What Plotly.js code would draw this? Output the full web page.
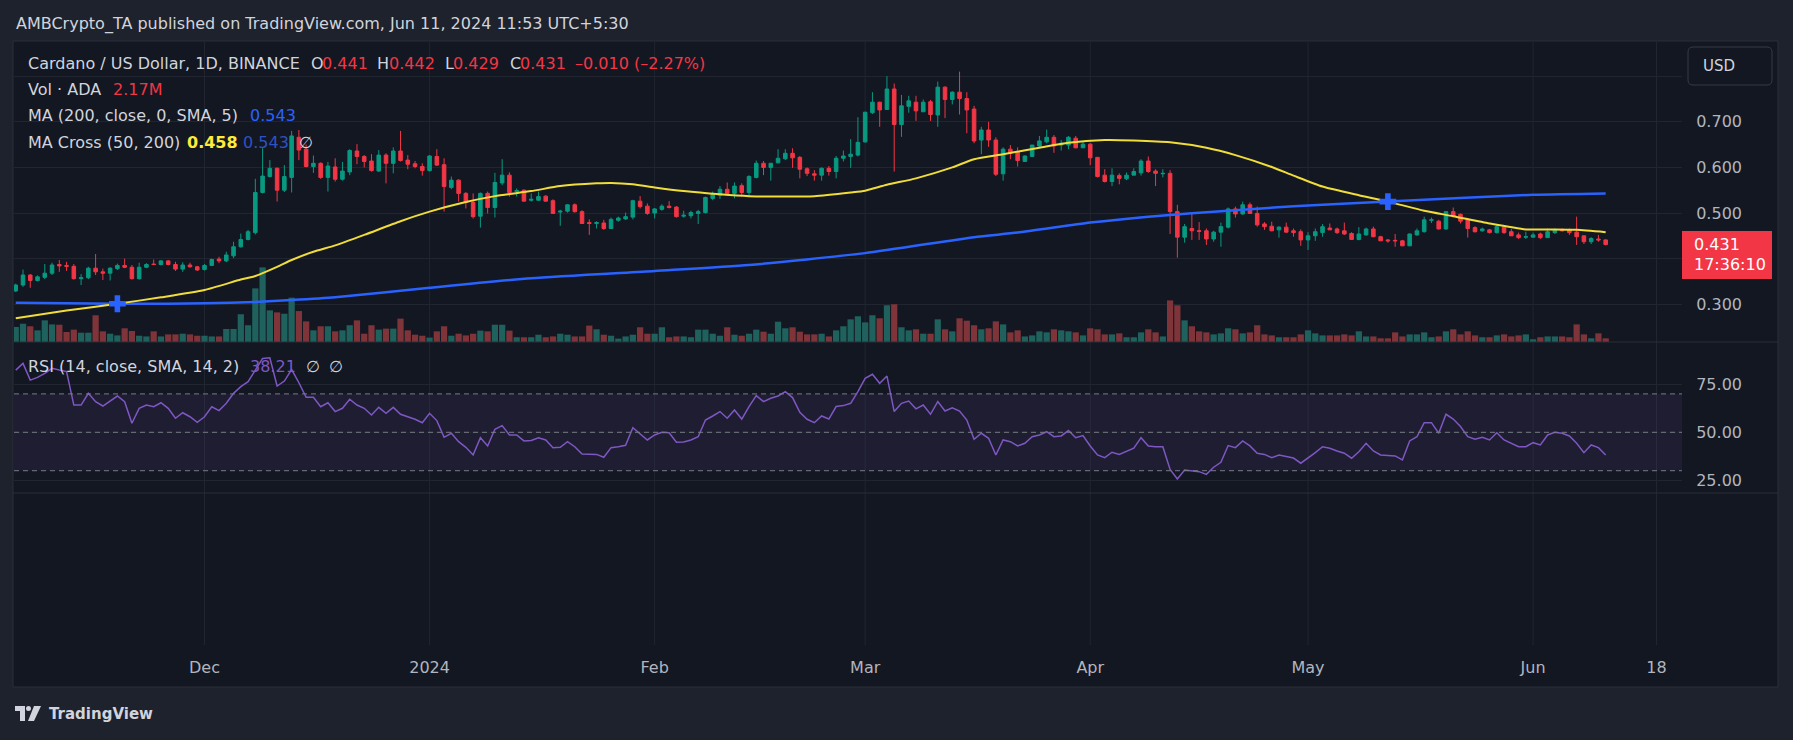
<!DOCTYPE html>
<html>
<head>
<meta charset="utf-8">
<script src="https://cdn.plot.ly/plotly-3.0.1.min.js"></script>
<style>
html,body{margin:0;padding:0;background:#1e222d;overflow:hidden}
#chart{width:1793px;height:740px}
</style>
</head>
<body>
<div id="chart"></div>
<script>
// ---------------- DATA ----------------
const dates = [
'2023-11-05','2023-11-06','2023-11-07','2023-11-08','2023-11-09','2023-11-10','2023-11-11','2023-11-12','2023-11-13','2023-11-14',
'2023-11-15','2023-11-16','2023-11-17','2023-11-18','2023-11-19','2023-11-20','2023-11-21','2023-11-22','2023-11-23','2023-11-24',
'2023-11-25','2023-11-26','2023-11-27','2023-11-28','2023-11-29','2023-11-30',
'2023-12-01','2023-12-02','2023-12-03','2023-12-04','2023-12-05','2023-12-06','2023-12-07','2023-12-08','2023-12-09','2023-12-10',
'2023-12-11','2023-12-12','2023-12-13','2023-12-14','2023-12-15','2023-12-16','2023-12-17','2023-12-18','2023-12-19','2023-12-20',
'2023-12-21','2023-12-22','2023-12-23','2023-12-24','2023-12-25','2023-12-26','2023-12-27','2023-12-28','2023-12-29','2023-12-30','2023-12-31',
'2024-01-01','2024-01-02','2024-01-03','2024-01-04','2024-01-05','2024-01-06','2024-01-07','2024-01-08','2024-01-09','2024-01-10',
'2024-01-11','2024-01-12','2024-01-13','2024-01-14','2024-01-15','2024-01-16','2024-01-17','2024-01-18','2024-01-19','2024-01-20',
'2024-01-21','2024-01-22','2024-01-23','2024-01-24','2024-01-25','2024-01-26','2024-01-27','2024-01-28','2024-01-29','2024-01-30','2024-01-31',
'2024-02-01','2024-02-02','2024-02-03','2024-02-04','2024-02-05','2024-02-06','2024-02-07','2024-02-08','2024-02-09','2024-02-10',
'2024-02-11','2024-02-12','2024-02-13','2024-02-14','2024-02-15','2024-02-16','2024-02-17','2024-02-18','2024-02-19','2024-02-20',
'2024-02-21','2024-02-22','2024-02-23','2024-02-24','2024-02-25','2024-02-26','2024-02-27','2024-02-28','2024-02-29',
'2024-03-01','2024-03-02','2024-03-03','2024-03-04','2024-03-05','2024-03-06','2024-03-07','2024-03-08','2024-03-09','2024-03-10',
'2024-03-11','2024-03-12','2024-03-13','2024-03-14','2024-03-15','2024-03-16','2024-03-17','2024-03-18','2024-03-19','2024-03-20',
'2024-03-21','2024-03-22','2024-03-23','2024-03-24','2024-03-25','2024-03-26','2024-03-27','2024-03-28','2024-03-29','2024-03-30','2024-03-31',
'2024-04-01','2024-04-02','2024-04-03','2024-04-04','2024-04-05','2024-04-06','2024-04-07','2024-04-08','2024-04-09','2024-04-10',
'2024-04-11','2024-04-12','2024-04-13','2024-04-14','2024-04-15','2024-04-16','2024-04-17','2024-04-18','2024-04-19','2024-04-20',
'2024-04-21','2024-04-22','2024-04-23','2024-04-24','2024-04-25','2024-04-26','2024-04-27','2024-04-28','2024-04-29','2024-04-30',
'2024-05-01','2024-05-02','2024-05-03','2024-05-04','2024-05-05','2024-05-06','2024-05-07','2024-05-08','2024-05-09','2024-05-10',
'2024-05-11','2024-05-12','2024-05-13','2024-05-14','2024-05-15','2024-05-16','2024-05-17','2024-05-18','2024-05-19','2024-05-20',
'2024-05-21','2024-05-22','2024-05-23','2024-05-24','2024-05-25','2024-05-26','2024-05-27','2024-05-28','2024-05-29','2024-05-30','2024-05-31',
'2024-06-01','2024-06-02','2024-06-03','2024-06-04','2024-06-05','2024-06-06','2024-06-07','2024-06-08','2024-06-09','2024-06-10','2024-06-11'
];

const open = [
0.329,0.342,0.364,0.352,0.359,0.368,0.387,0.385,0.383,0.356,0.358,0.379,0.371,0.368,0.378,0.385,0.381,0.356,0.381,0.388,0.387,0.395,0.387,0.377,0.386,0.382,
0.376,0.385,0.399,0.395,0.406,0.426,0.442,0.457,0.545,0.580,0.598,0.550,0.578,0.666,0.640,0.602,0.609,0.578,0.601,0.574,0.590,0.636,0.624,0.614,0.592,0.627,0.609,0.636,0.616,0.608,0.602,
0.593,0.624,0.606,0.556,0.572,0.543,0.523,0.493,0.543,0.512,0.566,0.583,0.547,0.550,0.528,0.528,0.537,0.527,0.502,0.504,0.518,0.503,0.479,0.477,0.478,0.466,0.484,0.487,0.491,0.526,0.515,
0.500,0.508,0.515,0.513,0.493,0.494,0.499,0.501,0.532,0.539,0.552,0.543,0.560,0.545,0.578,0.609,0.600,0.610,0.619,0.631,0.622,0.597,0.586,0.583,0.598,0.591,0.620,0.624,0.627,
0.656,0.720,0.743,0.727,0.772,0.694,0.734,0.743,0.722,0.744,0.715,0.776,0.749,0.765,0.751,0.728,0.660,0.682,0.660,0.586,0.640,0.633,0.613,0.624,0.647,0.656,0.666,0.649,0.649,0.664,0.643,
0.651,0.622,0.583,0.569,0.582,0.575,0.583,0.588,0.614,0.592,0.586,0.587,0.503,0.447,0.466,0.461,0.461,0.443,0.458,0.469,0.509,0.498,0.518,0.499,0.476,0.471,0.463,0.469,0.461,0.459,
0.441,0.450,0.457,0.467,0.465,0.461,0.455,0.442,0.452,0.465,0.448,0.441,0.440,0.439,0.428,0.452,0.459,0.484,0.482,0.465,0.503,0.497,0.486,0.468,0.461,0.463,0.457,0.469,0.459,0.452,0.447,
0.447,0.454,0.446,0.457,0.464,0.464,0.458,0.450,0.437,0.443,0.441
];
const high = [
0.345,0.376,0.366,0.363,0.388,0.391,0.397,0.393,0.388,0.366,0.382,0.410,0.378,0.381,0.389,0.400,0.386,0.391,0.390,0.398,0.397,0.397,0.393,0.392,0.391,0.384,
0.388,0.400,0.404,0.415,0.437,0.455,0.463,0.575,0.642,0.616,0.600,0.605,0.680,0.682,0.650,0.626,0.611,0.612,0.620,0.612,0.640,0.651,0.627,0.629,0.638,0.631,0.644,0.680,0.627,0.614,0.609,
0.627,0.640,0.620,0.580,0.574,0.546,0.543,0.545,0.547,0.588,0.618,0.589,0.554,0.552,0.543,0.547,0.539,0.530,0.507,0.519,0.521,0.506,0.486,0.482,0.485,0.490,0.492,0.501,0.529,0.537,0.521,
0.511,0.519,0.526,0.515,0.505,0.505,0.507,0.536,0.547,0.559,0.567,0.567,0.565,0.583,0.615,0.614,0.610,0.640,0.640,0.642,0.625,0.600,0.594,0.600,0.603,0.625,0.637,0.662,0.710,
0.722,0.765,0.744,0.800,0.784,0.759,0.757,0.757,0.749,0.748,0.788,0.778,0.767,0.810,0.765,0.735,0.689,0.700,0.666,0.644,0.649,0.644,0.626,0.649,0.669,0.683,0.671,0.660,0.669,0.669,0.656,
0.653,0.622,0.596,0.598,0.587,0.589,0.598,0.618,0.624,0.596,0.596,0.594,0.518,0.476,0.498,0.480,0.466,0.461,0.479,0.512,0.514,0.525,0.523,0.514,0.480,0.481,0.471,0.479,0.466,0.464,
0.458,0.466,0.476,0.477,0.468,0.479,0.458,0.469,0.468,0.470,0.450,0.443,0.454,0.441,0.455,0.466,0.492,0.490,0.485,0.504,0.512,0.499,0.488,0.471,0.468,0.465,0.475,0.471,0.465,0.457,0.459,
0.457,0.457,0.466,0.466,0.466,0.466,0.492,0.450,0.447,0.452,0.442
];
const low = [
0.327,0.338,0.336,0.350,0.355,0.364,0.371,0.373,0.354,0.342,0.355,0.364,0.353,0.352,0.375,0.379,0.354,0.354,0.379,0.386,0.385,0.385,0.373,0.371,0.380,0.373,
0.374,0.384,0.390,0.392,0.401,0.424,0.440,0.453,0.543,0.578,0.525,0.546,0.545,0.616,0.600,0.588,0.575,0.547,0.569,0.571,0.583,0.607,0.600,0.591,0.590,0.565,0.587,0.613,0.596,0.598,0.582,
0.591,0.603,0.503,0.552,0.525,0.510,0.488,0.468,0.499,0.490,0.561,0.536,0.536,0.525,0.525,0.527,0.525,0.498,0.472,0.501,0.501,0.476,0.452,0.466,0.463,0.466,0.481,0.485,0.486,0.510,0.496,
0.488,0.505,0.510,0.490,0.490,0.488,0.476,0.499,0.528,0.531,0.539,0.532,0.536,0.536,0.576,0.583,0.571,0.609,0.616,0.599,0.576,0.581,0.571,0.571,0.582,0.576,0.613,0.599,0.624,
0.654,0.717,0.689,0.726,0.591,0.667,0.720,0.702,0.722,0.702,0.689,0.708,0.738,0.716,0.675,0.653,0.629,0.645,0.581,0.571,0.618,0.602,0.612,0.624,0.644,0.653,0.632,0.637,0.640,0.642,0.643,
0.605,0.578,0.567,0.559,0.563,0.572,0.583,0.582,0.588,0.559,0.578,0.454,0.402,0.435,0.441,0.441,0.430,0.437,0.426,0.466,0.490,0.496,0.498,0.470,0.463,0.460,0.446,0.457,0.448,0.428,
0.419,0.439,0.448,0.463,0.454,0.452,0.441,0.440,0.450,0.447,0.439,0.435,0.426,0.428,0.428,0.450,0.457,0.478,0.464,0.463,0.492,0.477,0.446,0.457,0.459,0.455,0.455,0.454,0.450,0.443,0.443,
0.446,0.443,0.446,0.454,0.459,0.452,0.430,0.432,0.432,0.437,0.429
];
const close = [
0.342,0.364,0.352,0.360,0.368,0.386,0.384,0.383,0.356,0.358,0.379,0.371,0.368,0.379,0.385,0.381,0.356,0.381,0.387,0.387,0.395,0.387,0.377,0.386,0.382,0.375,
0.385,0.398,0.395,0.408,0.426,0.442,0.459,0.545,0.581,0.598,0.550,0.580,0.669,0.638,0.602,0.609,0.578,0.603,0.574,0.592,0.637,0.624,0.613,0.593,0.627,0.609,0.636,0.615,0.607,0.602,0.593,
0.625,0.605,0.558,0.572,0.543,0.523,0.492,0.543,0.512,0.567,0.583,0.545,0.549,0.526,0.530,0.536,0.526,0.499,0.504,0.518,0.503,0.477,0.477,0.479,0.466,0.486,0.489,0.492,0.527,0.514,0.499,
0.509,0.515,0.512,0.492,0.495,0.501,0.503,0.534,0.541,0.552,0.543,0.559,0.545,0.580,0.609,0.600,0.609,0.620,0.631,0.621,0.596,0.587,0.583,0.598,0.591,0.620,0.625,0.629,0.655,
0.721,0.743,0.726,0.772,0.694,0.735,0.746,0.724,0.743,0.716,0.776,0.749,0.765,0.751,0.726,0.658,0.682,0.660,0.585,0.640,0.631,0.615,0.625,0.649,0.658,0.666,0.647,0.653,0.666,0.643,0.651,
0.621,0.580,0.569,0.583,0.576,0.583,0.591,0.614,0.591,0.587,0.587,0.503,0.447,0.470,0.461,0.460,0.443,0.458,0.470,0.509,0.498,0.518,0.499,0.474,0.470,0.461,0.469,0.458,0.457,0.441,
0.450,0.459,0.470,0.463,0.457,0.454,0.442,0.454,0.465,0.448,0.439,0.439,0.439,0.428,0.454,0.461,0.485,0.485,0.465,0.503,0.493,0.482,0.466,0.459,0.465,0.457,0.470,0.457,0.450,0.446,0.448,
0.452,0.446,0.459,0.463,0.461,0.457,0.448,0.437,0.444,0.441,0.431
];
// volume in millions of ADA
const volume = [
8.9,10.8,9.3,6.9,12.8,10.4,10.2,5.9,7.3,5.5,5.5,15.8,6.3,4.9,3.9,8.1,6.5,3.7,3.3,6.3,3.3,4.5,4.5,4.9,4.5,3.7,
3.7,3.3,3.3,7.7,7.7,16.4,9.9,31.7,44.1,18.7,17.5,16.7,26.2,18.3,12.2,6.9,9.3,9.3,6.3,6.9,9.9,12.8,4.9,9.9,7.3,7.9,7.9,13.8,6.9,4.3,3.7,
2.6,6.3,9.3,3.7,4.9,3.9,4.9,6.7,6.3,10.2,10.2,6.7,2.8,2.8,2.8,4.3,2.8,3.3,4.9,4.3,3.3,3.3,9.7,7.5,4.3,3.7,2.0,3.3,4.3,8.7,4.9,
4.9,8.7,2.8,3.3,3.3,2.8,7.3,7.3,4.9,3.7,8.7,4.3,3.7,4.9,7.3,6.1,4.9,12.0,8.1,8.7,6.1,4.5,4.5,4.9,3.3,6.9,9.3,13.4,15.2,
11.6,15.8,14.0,21.7,22.3,8.7,6.9,7.5,4.9,4.9,13.4,7.5,6.3,14.0,12.6,9.9,7.5,8.1,12.2,10.4,5.7,6.9,3.3,3.9,6.3,5.7,7.5,6.9,6.3,5.7,3.9,
8.1,7.5,4.5,4.5,5.1,2.8,2.8,5.7,7.5,5.7,3.3,24.6,21.7,12.8,9.3,6.3,5.7,4.5,5.1,8.1,7.5,5.1,5.7,9.9,4.5,3.9,2.8,2.8,2.8,4.5,
6.9,5.1,3.9,3.9,3.9,4.5,3.9,6.3,3.3,3.3,2.2,2.2,5.7,3.3,4.5,4.5,5.7,2.8,3.3,6.3,7.5,4.5,6.3,3.9,2.8,2.8,3.9,4.5,3.3,3.9,4.5,
1.6,2.8,3.3,3.3,3.3,2.8,10.4,4.5,2.2,5.1,2.17
];
const rsi = [
82.4,85.9,77.2,78.6,80.7,83.3,82.4,81.6,64.2,64.2,70.3,65.9,63.7,66.5,68.9,65.9,54.7,62.5,64.2,63.3,65.4,62.5,57.3,60.2,58.1,55.2,
58.1,63.3,61.3,65.1,70.3,73.8,76.4,82.4,88.5,88.8,74.1,76.7,82.7,75.8,68.2,68.2,63.3,65.4,60.8,62.5,67.2,64.2,62.5,59.0,63.0,59.9,63.0,59.4,58.2,56.8,55.0,
59.9,56.1,47.4,49.5,45.1,42.2,38.2,47.2,42.9,51.6,53.5,48.6,48.6,45.5,45.7,47.2,46.0,42.0,42.2,45.1,42.5,38.7,38.5,38.5,37.0,42.0,42.5,43.2,52.4,49.0,46.0,
48.6,50.0,49.8,44.8,45.0,46.0,47.7,56.4,58.5,60.8,57.3,61.6,56.9,63.4,69.1,66.0,67.7,68.9,71.2,68.1,60.4,56.8,55.0,58.5,56.9,63.4,63.9,65.1,71.2,
78.1,80.2,75.5,79.3,60.8,65.1,66.3,62.2,64.2,59.4,66.0,61.1,62.8,61.1,56.4,46.4,49.5,46.9,38.2,46.0,45.1,42.9,44.3,47.7,48.6,50.3,47.7,48.1,50.9,47.2,48.3,
42.9,38.2,36.8,39.6,38.5,39.9,41.7,47.2,42.9,42.5,42.5,30.7,25.7,30.4,29.9,29.5,28.1,31.8,34.4,43.1,42.0,45.5,42.9,39.1,38.5,36.8,38.2,37.3,36.6,33.9,
36.5,39.4,42.5,41.7,40.3,39.1,36.5,39.9,44.3,40.3,38.2,37.8,37.7,35.6,45.5,47.7,55.0,55.0,49.5,59.4,56.9,53.0,47.7,46.4,47.4,46.0,49.8,46.0,44.3,42.5,42.5,
44.6,43.4,48.6,50.0,49.5,48.1,44.3,39.4,43.4,42.0,38.21
];
// moving averages, read at points along the drawn lines
const ma50Dates = ['2023-11-05','2023-11-12','2023-11-19','2023-11-25','2023-12-01','2023-12-06','2023-12-08','2023-12-11','2023-12-13','2023-12-16',
'2023-12-19','2023-12-23','2023-12-28','2024-01-01','2024-01-06','2024-01-10','2024-01-15','2024-01-19','2024-01-24','2024-01-26','2024-01-29',
'2024-02-01','2024-02-05','2024-02-10','2024-02-14','2024-02-19','2024-02-23','2024-02-28','2024-03-01','2024-03-04','2024-03-08','2024-03-13',
'2024-03-16','2024-03-20','2024-03-25','2024-03-29','2024-04-03','2024-04-07','2024-04-12','2024-04-17','2024-04-21','2024-04-26','2024-04-29',
'2024-05-03','2024-05-08','2024-05-12','2024-05-17','2024-05-21','2024-05-26','2024-05-31','2024-06-04','2024-06-07','2024-06-11'];
const ma50 = [0.269,0.286,0.301,0.315,0.331,0.354,0.362,0.382,0.397,0.415,
0.429,0.452,0.482,0.503,0.524,0.537,0.548,0.559,0.565,0.566,0.563,
0.556,0.548,0.541,0.537,0.536,0.537,0.545,0.549,0.562,0.576,0.600,
0.618,0.629,0.643,0.654,0.660,0.659,0.655,0.643,0.627,0.601,0.582,
0.558,0.539,0.525,0.505,0.493,0.477,0.464,0.464,0.463,0.458];
const ma200Dates = ['2023-11-05','2023-11-12','2023-11-19','2023-11-26','2023-12-01','2023-12-08','2023-12-13','2023-12-19','2024-01-01','2024-01-15',
'2024-02-01','2024-02-14','2024-03-01','2024-03-16','2024-03-22','2024-04-01','2024-04-09','2024-04-21','2024-04-29','2024-05-12','2024-06-01','2024-06-11'];
const ma200 = [0.303,0.302,0.301,0.301,0.302,0.305,0.309,0.315,0.336,0.357,
0.373,0.386,0.412,0.447,0.457,0.479,0.492,0.506,0.515,0.525,0.540,0.543];
// MA cross events
const crossDates = ['2023-11-19','2024-05-12'];
const crossValues = [0.301, 0.525];
// axis ticks
const timeTicks = ['2023-12-01','2024-01-01','2024-02-01','2024-03-01','2024-04-01','2024-05-01','2024-06-01','2024-06-18'];
const timeLabels = ['Dec','2024','Feb','Mar','Apr','May','Jun','18'];
const priceTicks = [0.3,0.4,0.5,0.6,0.7,0.8];
const priceTicksHidden = [0.4,0.8];   // covered by the price label / currency box in the reference
const rsiTicks = [25,50,75];
const rsiLevels = [30,50,70];

// ---------------- STYLE ----------------
const W = 1793, H = 740;
const fx = p => p / W;
const fy = p => 1 - p / H;
const FONT = 'DejaVu Sans';
const UP = '#089981', DOWN = '#f23645';
const VOL_UP = '#1f625d', VOL_DOWN = '#7e3439';
const TXT = '#d1d4dc', AX = '#b2b5be', GRID = '#21252f', BORDER = '#2a2e39';
const PANEL = '#131722';

const n = close.length;
const lastClose = close[n - 1];
const chg = close[n - 1] - close[n - 2];
const pct = chg / close[n - 2] * 100;
const fmtSigned = (v, d) => (v < 0 ? '\u2013' : '+') + Math.abs(v).toFixed(d);

const traces = [
  { type: 'bar', x: dates, y: volume, xaxis: 'x', yaxis: 'y',
    marker: { color: close.map((c, i) => c >= open[i] ? VOL_UP : VOL_DOWN), line: { width: 0 } },
    hoverinfo: 'skip' },
  { type: 'candlestick', x: dates, open: open, high: high, low: low, close: close, xaxis: 'x', yaxis: 'y2',
    increasing: { line: { color: UP, width: 1 }, fillcolor: UP },
    decreasing: { line: { color: DOWN, width: 1 }, fillcolor: DOWN },
    whiskerwidth: 0, hoverinfo: 'skip' },
  { type: 'scatter', mode: 'lines', x: ma200Dates, y: ma200, xaxis: 'x', yaxis: 'y2',
    line: { color: '#2962ff', width: 2.5, shape: 'spline', smoothing: 0.6 }, hoverinfo: 'skip' },
  { type: 'scatter', mode: 'lines', x: ma50Dates, y: ma50, xaxis: 'x', yaxis: 'y2',
    line: { color: '#f0dc3a', width: 2, shape: 'spline', smoothing: 0.6 }, hoverinfo: 'skip' },
  { type: 'scatter', mode: 'markers', x: crossDates, y: crossValues, xaxis: 'x', yaxis: 'y2',
    marker: { symbol: 'cross', size: 14, color: '#2962ff', line: { width: 0 } }, hoverinfo: 'skip' },
  { type: 'scatter', mode: 'lines', x: dates, y: rsi, xaxis: 'x', yaxis: 'y3',
    line: { color: '#7e57c2', width: 1.5 }, hoverinfo: 'skip' },
  { type: 'scatter', mode: 'markers', x: [dates[0]], y: [0.5], xaxis: 'x', yaxis: 'y4',
    marker: { opacity: 0 }, hoverinfo: 'skip' }
];

const shapes = [];
// chart panel
shapes.push({ type: 'rect', xref: 'paper', yref: 'paper', x0: fx(13), x1: fx(1778), y0: fy(687), y1: fy(41),
  fillcolor: PANEL, line: { color: BORDER, width: 1 }, layer: 'below' });
// vertical grid lines at time ticks
timeTicks.forEach(d => shapes.push({ type: 'line', xref: 'x', yref: 'paper', x0: d, x1: d, y0: fy(645), y1: fy(42),
  line: { color: GRID, width: 1 }, layer: 'below' }));
// RSI background band
shapes.push({ type: 'rect', xref: 'paper', yref: 'y3', x0: fx(14), x1: fx(1682), y0: rsiLevels[0], y1: rsiLevels[2],
  fillcolor: 'rgba(126,87,194,0.1)', line: { width: 0 }, layer: 'below' });
// RSI dashed levels
rsiLevels.forEach(v => shapes.push({ type: 'line', xref: 'paper', yref: 'y3', x0: fx(14), x1: fx(1682), y0: v, y1: v,
  line: { color: '#787b86', width: 1, dash: '5px,4px' }, layer: 'above' }));
// pane separators
[342, 493].forEach(p => shapes.push({ type: 'line', xref: 'paper', yref: 'paper', x0: fx(13), x1: fx(1778), y0: fy(p), y1: fy(p),
  line: { color: BORDER, width: 1 }, layer: 'above' }));
// USD box (rounded)
(function () {
  const x0 = fx(1688), x1 = fx(1772), y0 = fy(85), y1 = fy(47), rx = 5 / W, ry = 5 / H;
  const path = `M${x0 + rx},${y1} L${x1 - rx},${y1} Q${x1},${y1} ${x1},${y1 - ry} L${x1},${y0 + ry} Q${x1},${y0} ${x1 - rx},${y0} ` +
               `L${x0 + rx},${y0} Q${x0},${y0} ${x0},${y0 + ry} L${x0},${y1 - ry} Q${x0},${y1} ${x0 + rx},${y1} Z`;
  shapes.push({ type: 'path', xref: 'paper', yref: 'paper', path: path, fillcolor: PANEL, line: { color: '#363a45', width: 1 }, layer: 'above' });
})();
// last price label
const pxPerUnit = 456;
shapes.push({ type: 'rect', xref: 'paper', yref: 'y2', x0: fx(1682), x1: fx(1772),
  y0: lastClose - 34.5 / pxPerUnit, y1: lastClose + 13.5 / pxPerUnit, fillcolor: DOWN, line: { width: 0 }, layer: 'above' });
// TradingView logo mark
shapes.push({ type: 'path', xref: 'paper', yref: 'paper',
  path: `M${fx(15)},${fy(706)} L${fx(25)},${fy(706)} L${fx(25)},${fy(721)} L${fx(20)},${fy(721)} L${fx(20)},${fy(711)} L${fx(15)},${fy(711)} Z`,
  fillcolor: TXT, line: { width: 0 }, layer: 'above' });
shapes.push({ type: 'circle', xref: 'paper', yref: 'paper', x0: fx(26), x1: fx(31), y0: fy(711), y1: fy(706),
  fillcolor: TXT, line: { width: 0 }, layer: 'above' });
shapes.push({ type: 'path', xref: 'paper', yref: 'paper',
  path: `M${fx(34)},${fy(706)} L${fx(41)},${fy(706)} L${fx(34)},${fy(721)} L${fx(28)},${fy(721)} Z`,
  fillcolor: TXT, line: { width: 0 }, layer: 'above' });

const annotations = [];
function ann(text, x, y, color, extra) {
  annotations.push(Object.assign({ xref: 'paper', yref: 'paper', x: fx(x), y: fy(y), xanchor: 'left', yanchor: 'middle',
    showarrow: false, text: text, font: { family: FONT, size: 16, color: color } }, extra || {}));
}
ann('AMBCrypto_TA published on TradingView.com, Jun 11, 2024 11:53 UTC+5:30', 14, 24, TXT);
// legend row 1
ann('Cardano / US Dollar, 1D, BINANCE', 26, 63.5, TXT);
ann('O', 309, 63.5, TXT); ann(open[n - 1].toFixed(3), 320, 63.5, DOWN);
ann('H', 375, 63.5, TXT); ann(high[n - 1].toFixed(3), 387, 63.5, DOWN);
ann('L', 443, 63.5, TXT); ann(low[n - 1].toFixed(3), 451, 63.5, DOWN);
ann('C', 508, 63.5, TXT); ann(close[n - 1].toFixed(3), 518, 63.5, DOWN);
ann(fmtSigned(chg, 3), 573, 63.5, DOWN);
ann('(' + fmtSigned(pct, 2) + '%)', 632, 63.5, DOWN);
// row 2
ann('Vol \u00b7 ADA', 26, 90, TXT); ann(volume[n - 1].toFixed(2) + 'M', 111, 90, DOWN);
// row 3
ann('MA (200, close, 0, SMA, 5)', 26, 116, TXT); ann(ma200[ma200.length - 1].toFixed(3), 248, 116, '#2962ff');
// row 4
ann('MA Cross (50, 200)', 26, 142, TXT);
ann('<b>' + ma50[ma50.length - 1].toFixed(3) + '</b>', 185, 142, '#ffeb3b');
ann(ma200[ma200.length - 1].toFixed(3), 241, 142, '#2d52c4');
ann('\u2205', 297, 142, TXT);
// RSI legend
ann('RSI (14, close, SMA, 14, 2)', 26, 367, TXT);
ann(rsi[n - 1].toFixed(2), 248, 367, '#7e57c2');
ann('\u2205', 304, 367, TXT); ann('\u2205', 327, 367, TXT);
// USD
ann('USD', 1701, 66, TXT, { font: { family: FONT, size: 15, color: TXT } });
// last price label text
annotations.push({ xref: 'paper', yref: 'y2', x: fx(1692), y: lastClose, xanchor: 'left', yanchor: 'middle', showarrow: false,
  text: lastClose.toFixed(3), font: { family: FONT, size: 16, color: '#ffffff' } });
annotations.push({ xref: 'paper', yref: 'y2', x: fx(1692), y: lastClose, yshift: -20, xanchor: 'left', yanchor: 'middle', showarrow: false,
  text: '17:36:10', font: { family: FONT, size: 16, color: '#ffffff' } });
// TradingView wordmark
ann('<b>TradingView</b>', 47, 714, TXT, { font: { family: FONT, size: 15, color: TXT } });

const tickFont = { family: FONT, size: 16, color: AX };
const layout = {
  width: W, height: H,
  margin: { l: 0, r: 0, t: 0, b: 0, pad: 0 },
  paper_bgcolor: '#1e222d', plot_bgcolor: 'rgba(0,0,0,0)',
  showlegend: false, hovermode: false, dragmode: false,
  bargap: 0.14,
  font: { family: FONT, size: 16, color: AX },
  xaxis: { type: 'date', domain: [fx(14), fx(1682)], anchor: 'y4',
    range: ['2023-11-04 18:14', '2024-06-21 12:15'],
    tickmode: 'array', tickvals: timeTicks, ticktext: timeLabels,
    ticks: 'outside', ticklen: 8, tickcolor: 'rgba(0,0,0,0)',
    showgrid: false, zeroline: false, showline: false,
    rangeslider: { visible: false }, tickfont: tickFont, fixedrange: true },
  yaxis: { domain: [fy(342), fy(40)], range: [0, 178.5], visible: false, fixedrange: true, anchor: 'x' },
  yaxis2: { overlaying: 'y', anchor: 'x', side: 'right', range: [0.21711, 0.87939],
    tickmode: 'array', tickvals: priceTicks,
    ticktext: priceTicks.map(v => priceTicksHidden.includes(v) ? '' : v.toFixed(3)),
    ticks: 'outside', ticklen: 10, tickcolor: 'rgba(0,0,0,0)',
    showgrid: true, gridcolor: GRID, gridwidth: 1, zeroline: false, showline: false,
    tickfont: tickFont, fixedrange: true },
  yaxis3: { domain: [fy(493), fy(342)], anchor: 'x', side: 'right', range: [18.39, 97.03],
    tickmode: 'array', tickvals: rsiTicks, ticktext: rsiTicks.map(v => v.toFixed(2)),
    ticks: 'outside', ticklen: 10, tickcolor: 'rgba(0,0,0,0)',
    showgrid: true, gridcolor: GRID, gridwidth: 1, zeroline: false, showline: false,
    tickfont: tickFont, fixedrange: true },
  yaxis4: { domain: [fy(645), fy(493)], anchor: 'x', range: [0, 1], visible: false, fixedrange: true },
  shapes: shapes,
  annotations: annotations
};

Plotly.newPlot('chart', traces, layout, { displayModeBar: false, staticPlot: true, responsive: false });
</script>
</body>
</html>
